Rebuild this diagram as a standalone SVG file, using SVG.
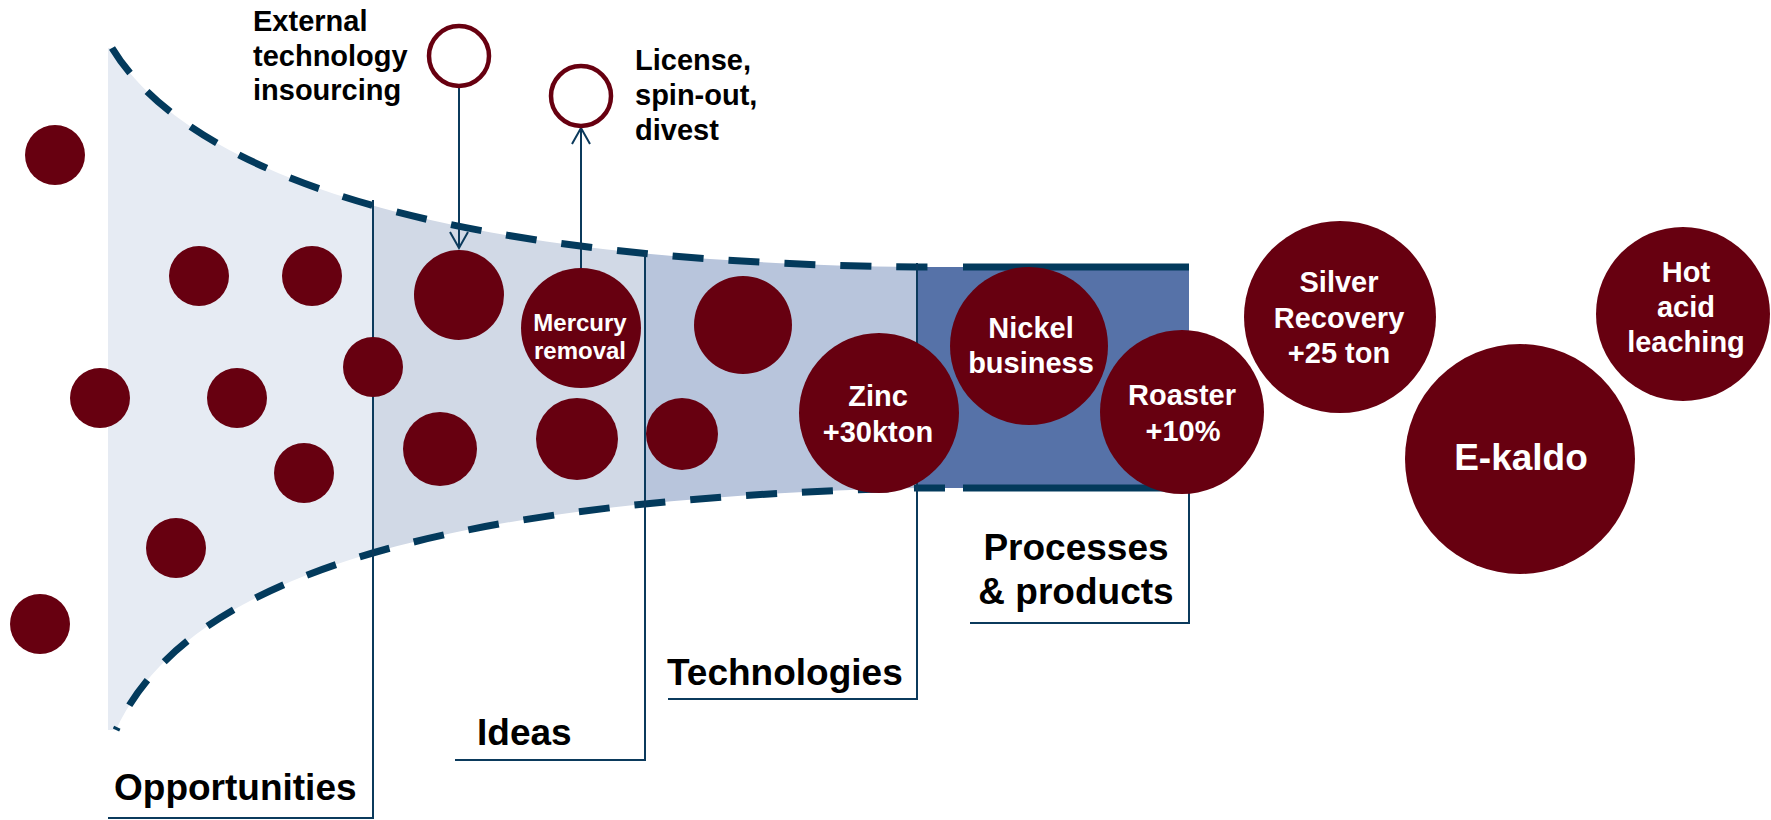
<svg xmlns="http://www.w3.org/2000/svg" width="1771" height="820" viewBox="0 0 1771 820">
<style>
text{font-family:"Liberation Sans",Arial,sans-serif;font-weight:bold}
.lbl{font-size:29px;fill:#000}
.stage{font-size:37px;fill:#000}
.nt{font-size:29px;fill:#fff;text-anchor:middle}
.dot{fill:#670010}
.ring{fill:none;stroke:#670010;stroke-width:4.5}
.thin{fill:none;stroke:#0B3A5C;stroke-width:2}
.dash{fill:none;stroke:#033A5C;stroke-width:7;stroke-dasharray:31 25}
.solid{fill:none;stroke:#033A5C;stroke-width:7}
</style>
<defs>
<clipPath id="funnel">
<path d="M108,48 L112,48 C180,160 400,262 917,267 L917,488 C400,500 180,590 116,730 L108,730 Z"/>
</clipPath>
<marker id="open" markerWidth="20" markerHeight="20" refX="18" refY="10" orient="auto" markerUnits="userSpaceOnUse">
<path d="M2,1 L18,10 L2,19" fill="none" stroke="#0B3A5C" stroke-width="2"/>
</marker>
</defs>
<rect width="1771" height="820" fill="#fff"/>
<g id="funnel-fill" clip-path="url(#funnel)">
<rect x="100" y="40" width="273" height="700" fill="#E6EBF3"/>
<rect x="373" y="40" width="272" height="700" fill="#D1D9E6"/>
<rect x="645" y="40" width="272" height="700" fill="#B8C5DC"/>
</g>
<rect id="stage4" x="917" y="267" width="272" height="221" fill="#5672A8"/>
<g id="funnel-outline">
<path class="dash" d="M112,48 C180,160 400,262 917,267 L945,267"/>
<path class="dash" d="M945,488 L917,488 C400,500 180,590 116,730"/>
<line class="solid" x1="963" y1="267" x2="1189" y2="267"/>
<line class="solid" x1="963" y1="488" x2="1189" y2="488"/>
</g>
<g id="stage-brackets">
<polyline class="thin" points="373,200 373,818 108,818"/>
<polyline class="thin" points="645,252 645,760 455,760"/>
<polyline class="thin" points="917,263 917,699 668,699"/>
<polyline class="thin" points="1189,488 1189,623 970,623"/>
</g>
<g id="stage-labels">
<text class="stage" x="114" y="800">Opportunities</text>
<text class="stage" x="477" y="745">Ideas</text>
<text class="stage" x="667" y="685">Technologies</text>
<text class="stage" x="1076" y="560" text-anchor="middle">Processes</text>
<text class="stage" x="1076" y="604" text-anchor="middle">&amp; products</text>
</g>
<g id="connectors">
<line class="thin" x1="459" y1="87" x2="459" y2="248" marker-end="url(#open)"/>
<line class="thin" x1="581" y1="268" x2="581" y2="128" marker-end="url(#open)"/>
</g>
<g id="external">
<circle class="ring" cx="459" cy="56" r="30"/>
<text class="lbl" x="253" y="31">External</text>
<text class="lbl" x="253" y="65.5">technology</text>
<text class="lbl" x="253" y="100">insourcing</text>
</g>
<g id="license">
<circle class="ring" cx="581" cy="96" r="30"/>
<text class="lbl" x="635" y="70">License,</text>
<text class="lbl" x="635" y="105">spin-out,</text>
<text class="lbl" x="635" y="140">divest</text>
</g>
<g id="opp-dots">
<circle class="dot" cx="55" cy="155" r="30"/>
<circle class="dot" cx="199" cy="276" r="30"/>
<circle class="dot" cx="312" cy="276" r="30"/>
<circle class="dot" cx="100" cy="398" r="30"/>
<circle class="dot" cx="237" cy="398" r="30"/>
<circle class="dot" cx="373" cy="367" r="30"/>
<circle class="dot" cx="304" cy="473" r="30"/>
<circle class="dot" cx="176" cy="548" r="30"/>
<circle class="dot" cx="40" cy="624" r="30"/>
</g>
<g id="idea-dots">
<circle class="dot" cx="459" cy="295" r="45"/>
<circle class="dot" cx="440" cy="449" r="37"/>
<circle class="dot" cx="577" cy="439" r="41"/>
</g>
<g id="tech-dots">
<circle class="dot" cx="743" cy="325" r="49"/>
<circle class="dot" cx="682" cy="434" r="36"/>
</g>
<g id="mercury">
<circle class="dot" cx="581" cy="328" r="60"/>
<text class="nt" x="580" y="331" style="font-size:24px">Mercury</text>
<text class="nt" x="580" y="359" style="font-size:24px">removal</text>
</g>
<g id="zinc">
<circle class="dot" cx="879" cy="413" r="80"/>
<text class="nt" x="878" y="406">Zinc</text>
<text class="nt" x="878" y="442">+30kton</text>
</g>
<g id="nickel">
<circle class="dot" cx="1029" cy="346" r="79"/>
<text class="nt" x="1031" y="338">Nickel</text>
<text class="nt" x="1031" y="373">business</text>
</g>
<g id="roaster">
<circle class="dot" cx="1182" cy="412" r="82"/>
<text class="nt" x="1182" y="405">Roaster</text>
<text class="nt" x="1183" y="441">+10%</text>
</g>
<g id="silver">
<circle class="dot" cx="1340" cy="317" r="96"/>
<text class="nt" x="1339" y="292">Silver</text>
<text class="nt" x="1339" y="327.5">Recovery</text>
<text class="nt" x="1339" y="363">+25 ton</text>
</g>
<g id="ekaldo">
<circle class="dot" cx="1520" cy="459" r="115"/>
<text class="nt" x="1521" y="470" style="font-size:37px">E-kaldo</text>
</g>
<g id="hotacid">
<circle class="dot" cx="1683" cy="314" r="87"/>
<text class="nt" x="1686" y="282">Hot</text>
<text class="nt" x="1686" y="317">acid</text>
<text class="nt" x="1686" y="352">leaching</text>
</g>
</svg>
